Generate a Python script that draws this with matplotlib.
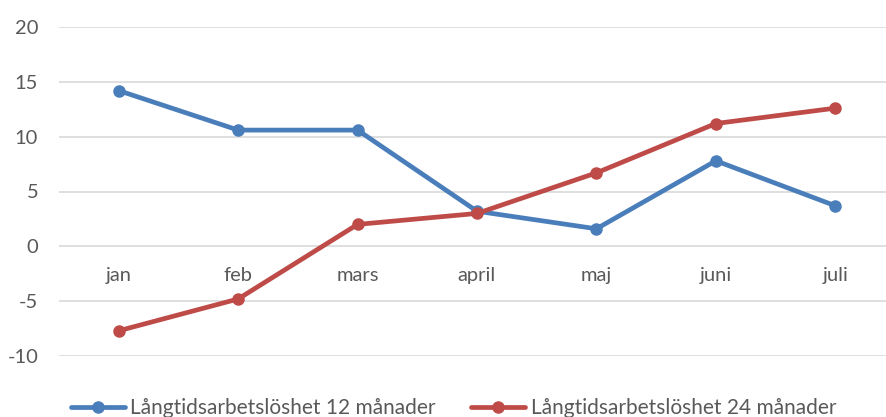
import matplotlib
matplotlib.use("Agg")
import matplotlib.pyplot as plt

categories = ["jan", "feb", "mars", "april", "maj", "juni", "juli"]
series_12 = [14.2, 10.6, 10.6, 3.2, 1.6, 7.8, 3.7]
series_24 = [-7.7, -4.8, 2.0, 3.0, 6.7, 11.2, 12.6]
label_12 = "Långtidsarbetslöshet 12 månader"
label_24 = "Långtidsarbetslöshet 24 månader"
yticks = [-10, -5, 0, 5, 10, 15, 20]

plt.rcParams['font.family'] = ['Lato', 'DejaVu Sans']
W, H = 887, 417
fig = plt.figure(figsize=(W / 100, H / 100), dpi=100)
left, right, top, bottom = 59, 895, 27, 356
ax = fig.add_axes([left / W, 1 - bottom / H, (right - left) / W, (bottom - top) / H])

x = list(range(len(categories)))
ax.plot(x, series_12, color="#4a7ebb", lw=3.4, marker="o", ms=8, label=label_12,
        solid_capstyle="round", zorder=3)
ax.plot(x, series_24, color="#be4b48", lw=3.4, marker="o", ms=8, label=label_24,
        solid_capstyle="round", zorder=3)

ax.set_xlim(-0.5, len(categories) - 0.5)
ax.set_ylim(-10, 20)
ax.set_yticks(yticks)
ax.set_yticklabels([str(v) for v in yticks])
ax.yaxis.grid(True, color="#d9d9d9", lw=1.2)
ax.set_axisbelow(True)
for s in ax.spines.values():
    s.set_visible(False)
ax.tick_params(axis="y", length=0, pad=15, labelsize=14.5, labelcolor="#595959")

ax.spines['bottom'].set_position(('data', 0))
ax.set_xticks(x)
ax.set_xticklabels(categories)
ax.tick_params(axis="x", length=0, pad=15, labelsize=14.5, labelcolor="#595959")

ax.set_facecolor("none")
fig.legend(loc="center", bbox_to_anchor=(0.5 + 10 / W, 1 - 408 / H), ncol=2, frameon=False,
           fontsize=15, labelcolor="#595959", handlelength=2.6, columnspacing=1.7,
           handletextpad=0.25)

fig.savefig("out.png", dpi=100)
